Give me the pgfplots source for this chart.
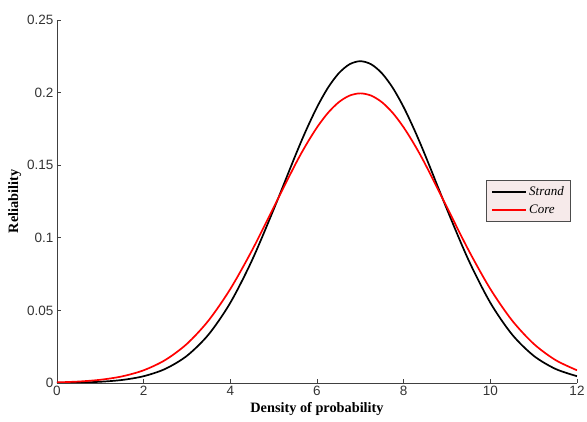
\documentclass[border=0pt]{standalone}
\usepackage{pgfplots}
\pgfplotsset{compat=1.18}
\usepackage{fontspec}
\setmainfont{Liberation Serif}
\newfontfamily\ticksf{Liberation Sans}
\definecolor{legbg}{RGB}{246,234,234}

\begin{document}
\begin{tikzpicture}
\begin{axis}[
scale only axis,
width=520pt, height=363pt,
xmin=0, xmax=12, ymin=0, ymax=0.25,
axis lines=left,
axis line style={-,draw=black!75,line width=0.8pt},
tick style={draw=black!75,line width=0.8pt},
tick align=inside,
major tick length=4pt,
xtick={0,2,4,6,8,10,12},
ytick={0,0.05,0.1,0.15,0.2,0.25},
/pgf/number format/assume math mode=true,
ticklabel style={font=\ticksf\fontsize{13.5}{15}\selectfont, text=black!80},
yticklabel style={/pgf/number format/fixed,/pgf/number format/precision=2},
xlabel={\bfseries Density of probability},
ylabel={\bfseries Reliability},
label style={font=\fontsize{14.3}{16}\selectfont},
xlabel style={yshift=1pt},
ylabel style={yshift=-1pt},
legend style={at={(0.989,0.559)},anchor=north east,fill=legbg,draw=black!70,
  line width=0.8pt,font=\itshape\fontsize{13}{15}\selectfont,
  row sep=4pt,inner xsep=5pt,inner ysep=4pt},
legend cell align=left,
legend image code/.code={\draw[#1,line width=1.6pt] (0pt,0pt) -- (34pt,0pt);},
]
\coordinate (sw) at (rel axis cs:0,0);
\coordinate (ne) at (rel axis cs:1,1);
\addplot[black,line width=1.7pt,smooth] coordinates {
(0,0.000115) (0.5,0.000327) (1,0.000857) (1.5,0.00208) (2,0.00468) (2.5,0.00974)
(3,0.01876) (3.5,0.03347) (4,0.05526) (4.5,0.08448) (5,0.11955) (5.5,0.15661)
(5.75,0.17415) (6,0.18994) (6.25,0.20320) (6.5,0.21324) (6.75,0.21950) (7,0.22163)
(7.25,0.21950) (7.5,0.21324) (7.75,0.20320) (8,0.18994) (8.25,0.17415) (8.5,0.15661)
(9,0.11955) (9.5,0.08448) (10,0.05526) (10.5,0.03347) (11,0.01876) (11.5,0.00974)
(12,0.00468)};
\addlegendentry{Strand}
\addplot[red,line width=1.7pt,smooth] coordinates {
(0,0.000436) (0.5,0.00101) (1,0.00222) (1.5,0.00455) (2,0.00876) (2.5,0.01587)
(3,0.02700) (3.5,0.04314) (4,0.06476) (4.5,0.09132) (5,0.12098) (5.5,0.15057)
(5.75,0.16408) (6,0.17603) (6.25,0.18593) (6.5,0.19333) (6.75,0.19792) (7,0.19947)
(7.25,0.19792) (7.5,0.19333) (7.75,0.18593) (8,0.17603) (8.25,0.16408) (8.5,0.15057)
(9,0.12098) (9.5,0.09132) (10,0.06476) (10.5,0.04314) (11,0.02700) (11.5,0.01587)
(12,0.00876)};
\addlegendentry{Core}
\end{axis}
\pgfresetboundingbox
\path ([shift={(-57pt,-39pt)}]sw) rectangle ([shift={(10pt,20pt)}]ne);
\end{tikzpicture}
\end{document}
